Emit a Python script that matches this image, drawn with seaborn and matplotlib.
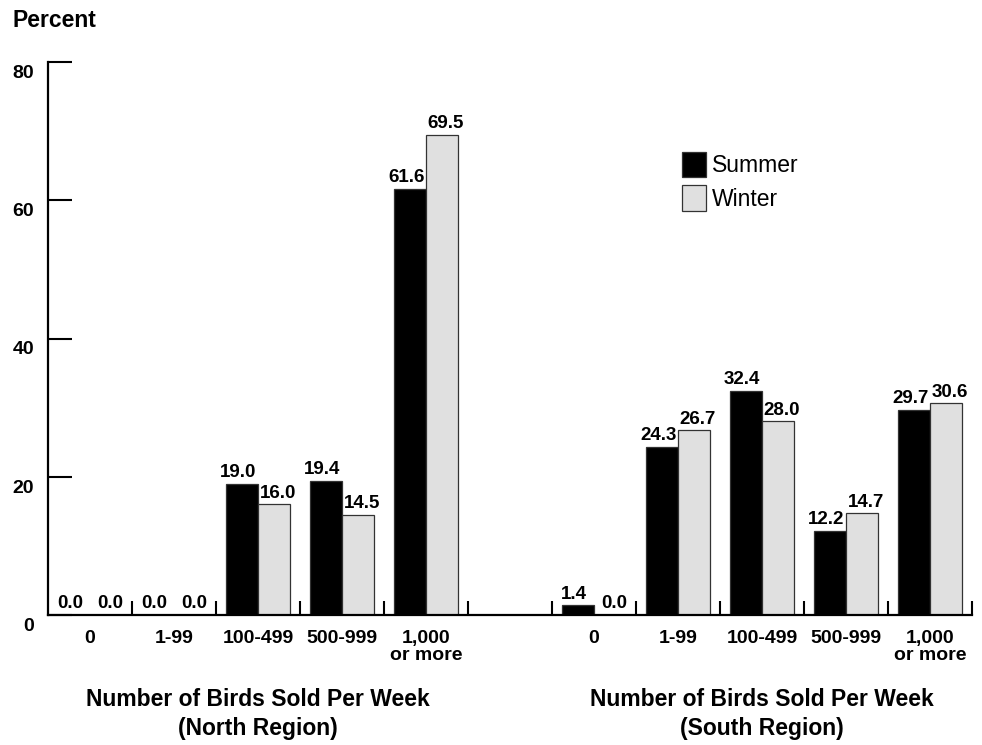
import pandas as pd
import seaborn as sns
import matplotlib.pyplot as plt
from matplotlib import transforms

bins = ['0', '1-99', '100-499', '500-999', '1,000\nor more']
seasons = ['Summer', 'Winter']
north_summer = [0.0, 0.0, 19.0, 19.4, 61.6]
north_winter = [0.0, 0.0, 16.0, 14.5, 69.5]
south_summer = [1.4, 24.3, 32.4, 12.2, 29.7]
south_winter = [0.0, 26.7, 28.0, 14.7, 30.6]
y_ticks = [0, 20, 40, 60, 80]
group_titles = ['Number of Birds Sold Per Week\n(North Region)',
                'Number of Birds Sold Per Week\n(South Region)']
palette = {'Summer': '#000000', 'Winter': '#e0e0e0'}

rows = []
for region, summer, winter in [('North', north_summer, north_winter),
                               ('South', south_summer, south_winter)]:
    for b, s, w in zip(bins, summer, winter):
        rows.append({'slot': f'{region} {b}', 'season': 'Summer', 'value': s})
        rows.append({'slot': f'{region} {b}', 'season': 'Winter', 'value': w})
df = pd.DataFrame(rows)
# empty slot between the two regions
order = [f'North {b}' for b in bins] + ['gap'] + [f'South {b}' for b in bins]

sns.set_style('white')
plt.rcParams['font.family'] = ['Liberation Sans', 'DejaVu Sans']
plt.rcParams['font.weight'] = 'bold'
for key in ['text.color', 'axes.labelcolor', 'xtick.color', 'ytick.color']:
    plt.rcParams[key] = 'black'

fig = plt.figure(figsize=(9.82, 7.45), dpi=100)
ax = fig.add_axes([48 / 982, 1 - 615 / 745, 924 / 982, 553 / 745])

sns.barplot(data=df, x='slot', y='value', hue='season', order=order,
            hue_order=seasons, palette=palette, width=0.76, errorbar=None,
            edgecolor='#333333', linewidth=0.9, saturation=1, ax=ax)

# summer labels nudged left, winter labels nudged right so neighbours don't collide
for c, dx in zip(ax.containers, [-2.8, 2.8]):
    for ann in ax.bar_label(c, fmt='%.1f', padding=2, fontsize=13.5,
                            fontweight='bold'):
        ann.xyann = (dx, 2)

ax.set_xlim(-0.5, 10.5)
ax.set_ylim(0, 80)
ax.set_yticks(y_ticks)
ax.set_xticks(range(len(order)))
ax.set_xticklabels(bins + [''] + bins)
ax.set_xticks([i + 0.5 for i in range(len(order))], minor=True)
ax.set_xlabel('')
ax.set_ylabel('')

sns.despine(ax=ax)
for side in ['left', 'bottom']:
    ax.spines[side].set_linewidth(1.6)
    ax.spines[side].set_color('black')

ax.tick_params(axis='x', which='major', length=0, pad=11, labelsize=14)
ax.tick_params(axis='x', which='minor', direction='in', length=10, width=1.5,
               color='black', bottom=True)
ax.tick_params(axis='y', direction='in', length=17, width=1.5, pad=10,
               labelsize=14, color='black', left=True)
for lab in ax.get_xticklabels():
    lab.set_linespacing(1.0)
    lab.set_fontweight('bold')
shift = transforms.ScaledTranslation(0, -9.5 / 100, fig.dpi_scale_trans)
for lab in ax.get_yticklabels():
    lab.set_fontweight('bold')
    lab.set_transform(lab.get_transform() + shift)

sns.move_legend(ax, 'upper left', bbox_to_anchor=(0.686, 0.838), frameon=False,
                title=None, fontsize=16.5, handlelength=1.05, handleheight=1.35,
                handletextpad=0.25, labelspacing=0.35, borderpad=0,
                borderaxespad=0)
for t in ax.get_legend().get_texts():
    t.set_fontweight('normal')
    t.set_color('black')

mixed = transforms.blended_transform_factory(ax.transData, fig.transFigure)
for x, title in zip([2, 8], group_titles):
    ax.text(x, 1 - 714 / 745, title, transform=mixed, ha='center', va='center',
            fontsize=16.5, fontweight='bold', linespacing=1.3)

fig.text(12 / 982, 1 - 27 / 745, 'Percent', ha='left', va='baseline',
         fontsize=16.5, fontweight='bold')

fig.savefig('out.png', dpi=100)
